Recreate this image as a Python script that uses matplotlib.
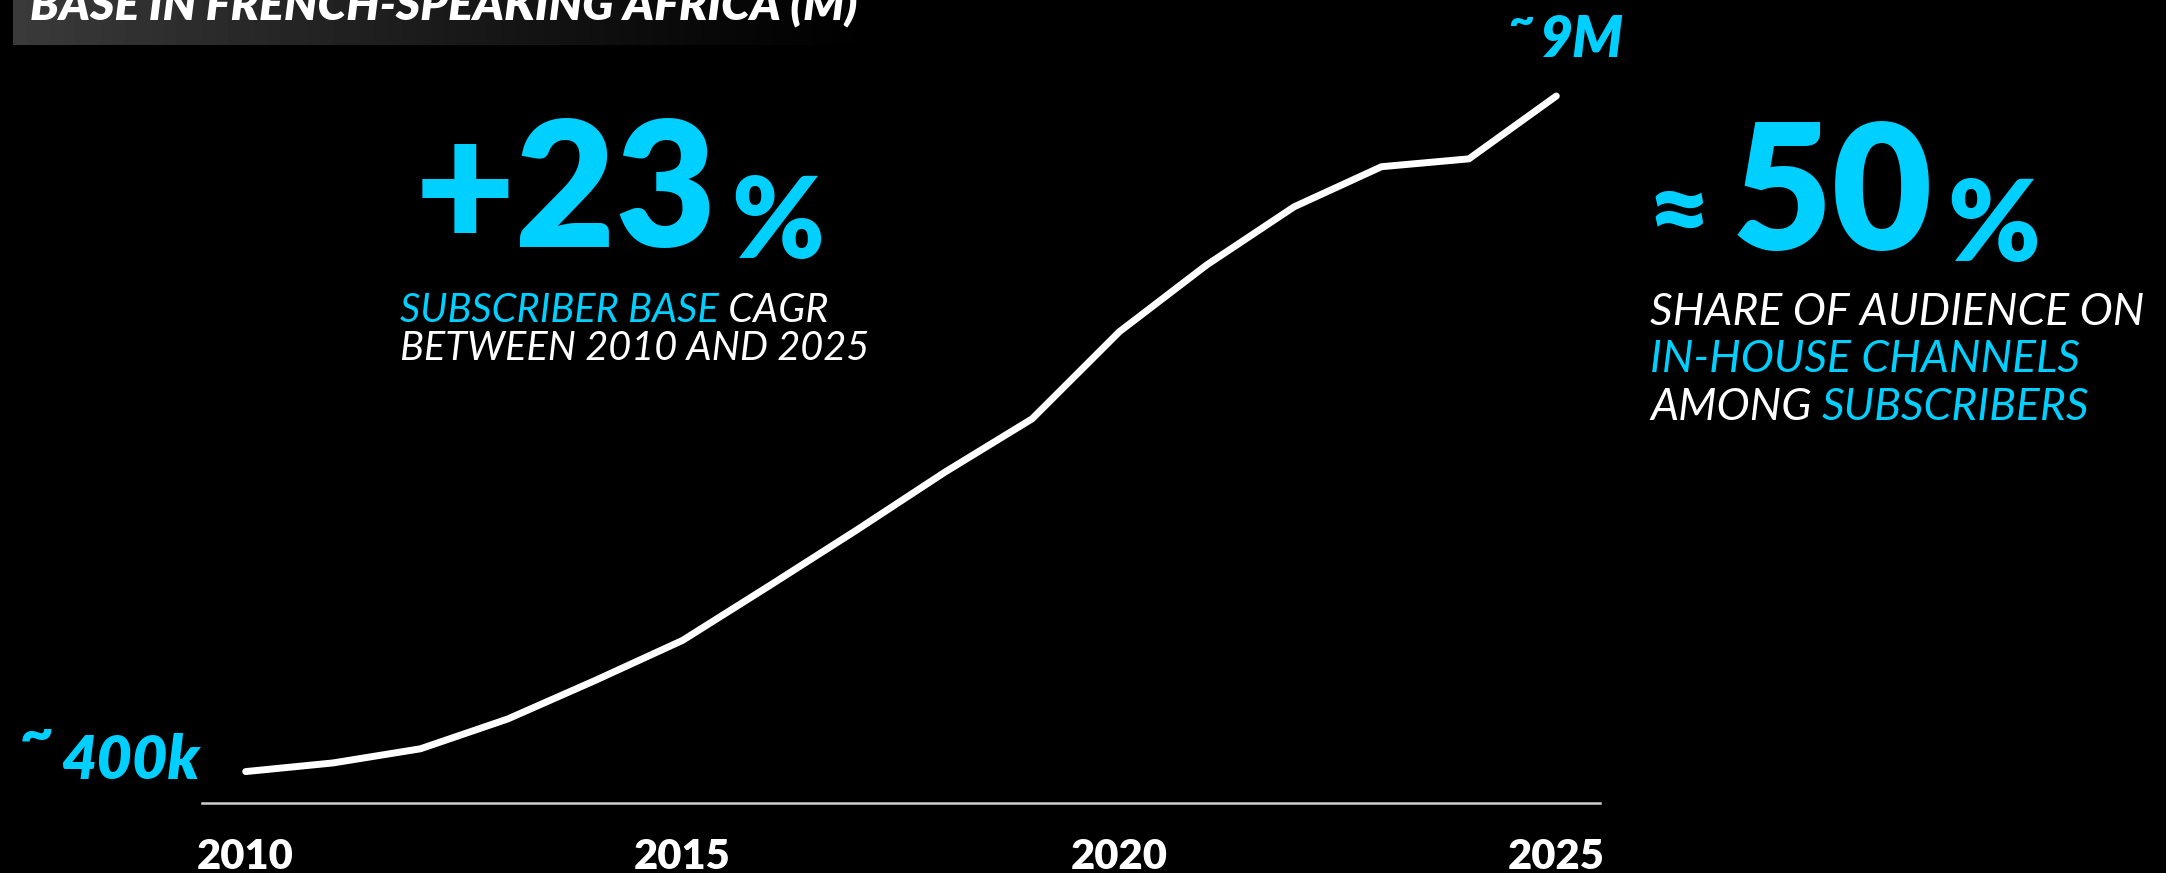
import matplotlib
matplotlib.use('Agg')

import matplotlib.pyplot as plt
import numpy as np

# subscriber base in French-speaking Africa, millions
years = list(range(2010, 2026))
subscribers_m = [0.40, 0.51, 0.69, 1.07, 1.56, 2.07, 2.77, 3.48,
                 4.21, 4.89, 6.00, 6.85, 7.59, 8.10, 8.20, 9.00]
tick_years = [2010, 2015, 2020, 2025]
start_label = '400k'
end_label = '9M'
cagr_value = '+23'
share_value = '50'
title = 'BASE IN FRENCH-SPEAKING AFRICA (M)'

W, H = 2166, 873
CYAN = '#00D0FF'

plt.rcParams['font.family'] = ['Lato', 'DejaVu Sans']

fig = plt.figure(figsize=(W / 100, H / 100), dpi=100, facecolor='black')

# pixel-space layer for header band and free text
bg = fig.add_axes([0, 0, 1, 1])
bg.axis('off')
grad = np.linspace(0.23, 0.0, 256) ** 1.2 / 0.23 ** 0.2
bg.imshow(grad.reshape(1, -1), extent=(13, 885, 45, 0), cmap='gray',
          vmin=0, vmax=1, aspect='auto', interpolation='bilinear')
bg.set_xlim(0, W)
bg.set_ylim(H, 0)

renderer = fig.canvas.get_renderer()

# title (cut by the top edge, as in the source), fitted to its width
t = bg.text(30, 19, title, color='white', fontsize=30, fontweight='heavy',
            style='italic', va='baseline', ha='left')
w = t.get_window_extent(renderer).width
t.set_fontsize(30 * 826 / w)


def runs(x, y, parts, size):
    t = bg.text(x, y, parts[0][0], color=parts[0][1], fontsize=size,
                fontweight='normal', style='italic', va='baseline', ha='left')
    for s, c in parts[1:]:
        t = bg.annotate(s, xy=(1, 0), xycoords=t, color=c, fontsize=size,
                        fontweight='normal', style='italic', va='bottom', ha='left')


# +23% block
big = bg.text(415, 247, cagr_value, color=CYAN, fontsize=125, fontweight='heavy',
              va='baseline', ha='left')
bg.annotate('%', xy=(1, 0), xycoords=big, xytext=(14, 0), textcoords='offset pixels',
            color=CYAN, fontsize=80, fontweight='heavy', va='bottom', ha='left')
runs(400, 322, [('SUBSCRIBER BASE', CYAN), (' CAGR', 'white')], 28.6)
runs(400, 360, [('BETWEEN 2010 AND 2025', 'white')], 28.6)

# ~50% block
big2 = bg.text(1732, 250, share_value, color=CYAN, fontsize=125, fontweight='heavy',
               va='baseline', ha='left')
bg.annotate('%', xy=(1, 0), xycoords=big2, xytext=(14, 0), textcoords='offset pixels',
            color=CYAN, fontsize=80, fontweight='heavy', va='bottom', ha='left')
bg.text(1710, 214, '\u2248', color=CYAN, fontsize=78, fontweight='heavy',
        va='center', ha='right')
runs(1650, 325, [('SHARE OF AUDIENCE ON', 'white')], 32)
runs(1650, 372, [('IN-HOUSE CHANNELS', CYAN)], 32)
runs(1650, 420, [('AMONG ', 'white'), ('SUBSCRIBERS', CYAN)], 32)

# chart
ax = fig.add_axes([202 / W, 1 - 803 / H, (1600 - 202) / W, (803 - 96) / H])
ax.patch.set_alpha(0)
ax.set_xlim(2009.5, 2025.5)
ax.set_ylim(0, 9)
ax.plot(years, subscribers_m, color='white', lw=5, solid_capstyle='round',
        solid_joinstyle='miter', clip_on=False)

for s in ['top', 'right', 'left']:
    ax.spines[s].set_visible(False)
ax.spines['bottom'].set_color('#cfcfcf')
ax.spines['bottom'].set_linewidth(1.8)
ax.set_yticks([])
ax.set_xticks(tick_years)
ax.set_xticklabels([str(y) for y in tick_years])
ax.tick_params(axis='x', length=0, pad=25, labelsize=30, labelcolor='white')
for lab in ax.get_xticklabels():
    lab.set_fontweight('heavy')

# end labels
s = ax.annotate(start_label, xy=(years[0], subscribers_m[0]), xytext=(-46, -7),
                textcoords='offset pixels', color=CYAN, fontsize=44,
                fontweight='heavy', style='italic', ha='right', va='baseline')
ax.annotate('~', xy=(0, 1), xycoords=s, xytext=(-8, -2), textcoords='offset pixels',
            color=CYAN, fontsize=42, fontweight='heavy', ha='right', va='center')
e = ax.annotate(end_label, xy=(years[-1], subscribers_m[-1]), xytext=(-16, 39),
                textcoords='offset pixels', color=CYAN, fontsize=41,
                fontweight='heavy', style='italic', ha='left', va='baseline')
ax.annotate('~', xy=(0, 1), xycoords=e, xytext=(-6, -7), textcoords='offset pixels',
            color=CYAN, fontsize=32, fontweight='heavy', ha='right', va='center')

fig.savefig('out.png', dpi=100, facecolor='black')
